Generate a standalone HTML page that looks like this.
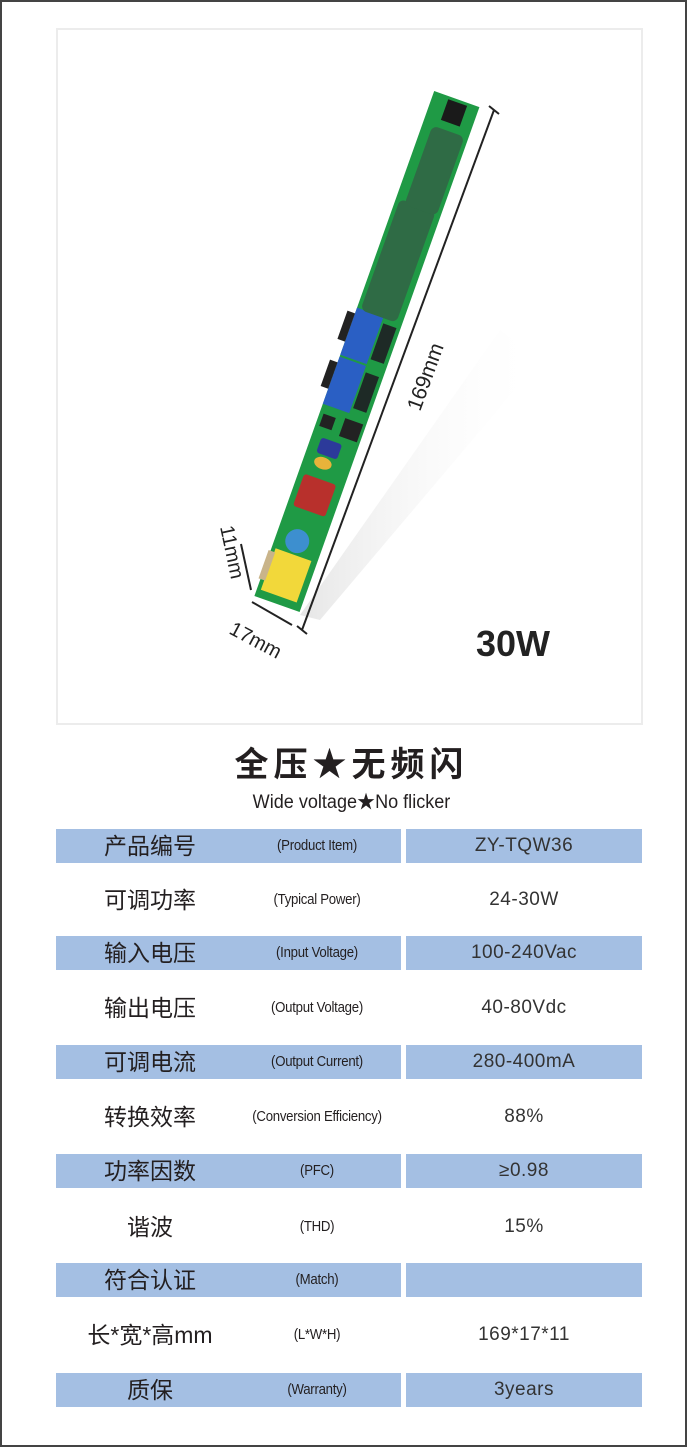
<!DOCTYPE html>
<html><head><meta charset="utf-8"><style>
body{margin:0;background:#fff;}
#pg{position:relative;width:683px;height:1443px;border:2px solid #444;overflow:hidden;background:#fff;font-family:"Liberation Sans","Noto Sans CJK SC",sans-serif;color:#231f20}
.box{position:absolute;left:54px;top:26px;width:583px;height:693px;border:2px solid #ececec}
.row{position:absolute;left:54px;width:586px;height:34px}
.c1{position:absolute;left:0;width:345px;height:34px}
.c2{position:absolute;left:350px;width:236px;height:34px}
.blue{background:#a4bfe3}
.cn{position:absolute;left:0;width:188px;text-align:center;font-size:23px;line-height:34px;top:0}
.en{position:absolute;left:160px;width:202px;text-align:center;font-size:15px;line-height:34px;top:0;transform:scaleX(0.88);letter-spacing:-0.3px}
.v{position:absolute;left:350px;width:236px;text-align:center;font-size:19px;line-height:34px;top:0;letter-spacing:0.5px;color:#333}
</style></head><body><div id="pg">
<div class="box"></div>
<svg style="position:absolute;left:-2px;top:-2px" width="687" height="730">
<defs><linearGradient id="sh" x1="0" y1="0" x2="1" y2="0"><stop offset="0" stop-color="#e6e6e6"/><stop offset="1" stop-color="#fff" stop-opacity="0"/></linearGradient></defs>
<polygon points="300,615 500,330 540,360 320,620" fill="url(#sh)"/>
<g transform="translate(277,604) rotate(19.6)">
<rect x="-24" y="-536" width="48" height="536" fill="#1f9a45"/>
<rect x="-20" y="-52" width="38" height="44" fill="#f2d83a"/>
<rect x="-26" y="-48" width="7" height="30" fill="#c9b48a"/>
<circle cx="-2" cy="-66" r="12" fill="#3d8fcf"/>
<rect x="-18" y="-132" width="34" height="34" rx="3" fill="#b8302c"/>
<ellipse cx="-4" cy="-148" rx="9" ry="6" fill="#e8b33a"/>
<rect x="-14" y="-172" width="22" height="16" rx="3" fill="#2c3a9a"/>
<rect x="-20" y="-195" width="13" height="13" fill="#222"/>
<rect x="2" y="-198" width="19" height="19" fill="#222"/>
<rect x="-24" y="-254" width="28" height="50" fill="#2a5fc4"/>
<rect x="6" y="-248" width="14" height="38" fill="#1e2a26"/>
<rect x="-24" y="-306" width="28" height="50" fill="#2a5fc4"/>
<rect x="6" y="-300" width="14" height="38" fill="#1e2a26"/>
<rect x="-32" y="-300" width="8" height="30" fill="#222"/>
<rect x="-32" y="-248" width="8" height="28" fill="#222"/>
<rect x="-20" y="-423" width="38" height="118" rx="6" fill="#2f6b45"/>
<rect x="-14" y="-503" width="34" height="84" rx="6" fill="#2f6b45"/>
<rect x="-8" y="-533" width="20" height="22" fill="#1a1a1a"/>
</g>
<line x1="302" y1="630" x2="494" y2="110" stroke="#222" stroke-width="2"/>
<line x1="297" y1="626" x2="307" y2="634" stroke="#222" stroke-width="2"/>
<line x1="489" y1="106" x2="499" y2="114" stroke="#222" stroke-width="2"/>
<line x1="252" y1="602" x2="292" y2="625" stroke="#222" stroke-width="2"/>
<line x1="241" y1="544" x2="251" y2="590" stroke="#222" stroke-width="2"/>
<text x="0" y="0" transform="translate(420,412) rotate(-70)" font-family="Liberation Sans" font-size="21" fill="#222">169mm</text>
<text x="0" y="0" transform="translate(228,633) rotate(28)" font-family="Liberation Sans" font-size="20" fill="#222">17mm</text>
<text x="0" y="0" transform="translate(220,527) rotate(78)" font-family="Liberation Sans" font-size="20" fill="#222">11mm</text>
<text x="476" y="656" font-family="Liberation Sans" font-weight="bold" font-size="36" fill="#222">30W</text>
</svg>
<div style="position:absolute;left:0;width:699px;top:743px;text-align:center;font-size:34px;font-weight:bold;line-height:40px;letter-spacing:5px">全压★无频闪</div>
<div style="position:absolute;left:0;width:699px;top:789px;text-align:center;font-size:19px;line-height:24px;transform:scaleX(0.95)">Wide voltage★No flicker</div>

<div class="row" style="top:827px"><div class="c1 blue"></div><div class="c2 blue"></div><div class="cn">产品编号</div><div class="en">(Product Item)</div><div class="v">ZY-TQW36</div></div>
<div class="row" style="top:881px"><div class="cn">可调功率</div><div class="en">(Typical Power)</div><div class="v">24-30W</div></div>
<div class="row" style="top:934px"><div class="c1 blue"></div><div class="c2 blue"></div><div class="cn">输入电压</div><div class="en">(Input Voltage)</div><div class="v">100-240Vac</div></div>
<div class="row" style="top:989px"><div class="cn">输出电压</div><div class="en">(Output Voltage)</div><div class="v">40-80Vdc</div></div>
<div class="row" style="top:1043px"><div class="c1 blue"></div><div class="c2 blue"></div><div class="cn">可调电流</div><div class="en">(Output Current)</div><div class="v">280-400mA</div></div>
<div class="row" style="top:1098px"><div class="cn">转换效率</div><div class="en">(Conversion Efficiency)</div><div class="v">88%</div></div>
<div class="row" style="top:1152px"><div class="c1 blue"></div><div class="c2 blue"></div><div class="cn">功率因数</div><div class="en">(PFC)</div><div class="v">≥0.98</div></div>
<div class="row" style="top:1208px"><div class="cn">谐波</div><div class="en">(THD)</div><div class="v">15%</div></div>
<div class="row" style="top:1261px"><div class="c1 blue"></div><div class="c2 blue"></div><div class="cn">符合认证</div><div class="en">(Match)</div><div class="v"></div></div>
<div class="row" style="top:1316px"><div class="cn" style="left:-10px;width:208px">长*宽*高mm</div><div class="en">(L*W*H)</div><div class="v">169*17*11</div></div>
<div class="row" style="top:1371px"><div class="c1 blue"></div><div class="c2 blue"></div><div class="cn">质保</div><div class="en">(Warranty)</div><div class="v">3years</div></div>
</div></body></html>
